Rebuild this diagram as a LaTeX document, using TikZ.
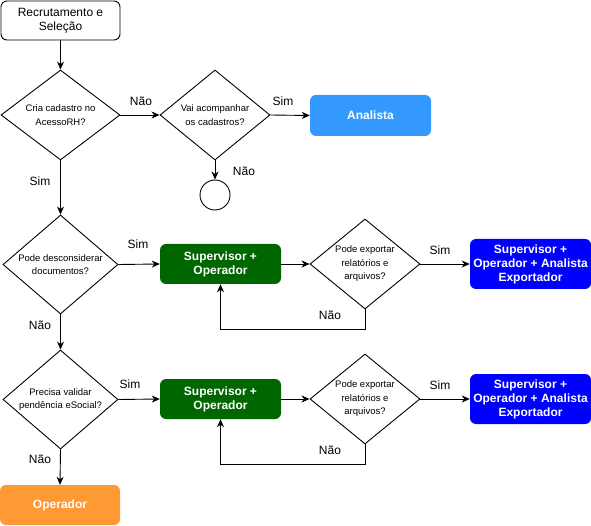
\documentclass[tikz,border=0pt]{standalone}
\usepackage{fontspec}
\setmainfont{Liberation Sans}
\usetikzlibrary{shapes.geometric,arrows.meta}
\definecolor{ana}{HTML}{3399FF}
\definecolor{sup}{HTML}{006600}
\definecolor{exp}{HTML}{0000FF}
\definecolor{ope}{HTML}{FF9933}
\tikzset{
 rbox/.style={rectangle, rounded corners=6pt, minimum width=121pt, minimum height=40pt, inner sep=0pt, align=center, font=\fontsize{12}{14}\selectfont\bfseries, text=white},
 dec/.style={diamond, draw, line width=0.9pt, inner sep=0pt},
 dtext/.style={align=center, font=\fontsize{9.5}{13.5}\selectfont, inner sep=0pt},
 lbl/.style={font=\fontsize{12}{14}\selectfont, inner sep=0pt},
 arr/.style={-{Stealth[length=8pt,width=7pt,inset=2.5pt]}, line width=0.9pt},
}
\begin{document}
\begin{tikzpicture}[x=1pt,y=-1pt]
\useasboundingbox (0,0) rectangle (591,526);
% nodes
\node[draw, line width=0.9pt, rounded corners=6pt, minimum width=119pt, minimum height=39pt, inner sep=0pt, align=center, font=\fontsize{12}{14}\selectfont] (start) at (60.5,20.5) {Recrutamento e\\Seleção};
\node[dec, minimum width=119pt, minimum height=90pt] (d1) at (60.5,115) {};
\node[dtext] (t1) at (d1) {Cria cadastro no\\AcessoRH?};
\node[dec, minimum width=110pt, minimum height=90pt] (d2) at (215,115) {};
\node[dtext] (t2) at (d2) {Vai acompanhar\\os cadastros?};
\node[rbox, fill=ana, minimum height=41pt] (ana) at (370.5,115.5) {Analista};
\node[circle, draw, line width=0.9pt, minimum size=30pt, inner sep=0pt] (fim) at (215,195) {};
\node[dec, minimum width=115pt, minimum height=99pt] (d3) at (60.5,264.5) {};
\node[dtext] (t3) at (d3) {Pode desconsiderar\\documentos?};
\node[rbox, fill=sup] (g1) at (220.5,264) {Supervisor +\\Operador};
\node[dec, minimum width=110pt, minimum height=90pt] (d4) at (365,264) {};
\node[dtext] (t4) at (d4) {Pode exportar\\relatórios e\\arquivos?};
\node[rbox, fill=exp, minimum height=50pt] (b1) at (530.5,264) {Supervisor +\\Operador + Analista\\Exportador};
\node[dec, minimum width=115pt, minimum height=99pt] (d5) at (60.5,399.5) {};
\node[dtext] (t5) at (d5) {Precisa validar\\pendência eSocial?};
\node[rbox, fill=sup] (g2) at (220.5,399) {Supervisor +\\Operador};
\node[dec, minimum width=110pt, minimum height=90pt] (d6) at (365,399) {};
\node[dtext] (t6) at (d6) {Pode exportar\\relatórios e\\arquivos?};
\node[rbox, fill=exp, minimum height=50pt] (b2) at (530.5,399) {Supervisor +\\Operador + Analista\\Exportador};
\node[rbox, fill=ope, minimum width=120pt] (op) at (60,505) {Operador};
% connectors
\draw[arr] (start) -- (d1.north);
\draw[arr] (d1.east) -- (d2.west);
\draw[arr] (d2.east) -- (ana.west);
\draw[arr] (d2.south) -- (fim.north);
\draw[arr] (d1.south) -- (d3.north);
\draw[arr] (d3.east) -- (g1.west);
\draw[arr] (g1.east) -- (d4.west);
\draw[arr] (d4.east) -- (b1.west);
\draw[arr] (d4.south) -- ++(0,20) -| (g1.south);
\draw[arr] (d3.south) -- (d5.north);
\draw[arr] (d5.east) -- (g2.west);
\draw[arr] (g2.east) -- (d6.west);
\draw[arr] (d6.east) -- (b2.west);
\draw[arr] (d6.south) -- ++(0,20) -| (g2.south);
\draw[arr] (d5.south) -- (op.north);
% labels
\node[lbl] (l1) at (141,101) {Não};
\node[lbl] (l2) at (283,101) {Sim};
\node[lbl] (l3) at (244,171) {Não};
\node[lbl] (l4) at (40,181) {Sim};
\node[lbl] (l5) at (138,244) {Sim};
\node[lbl] (l6) at (440,250) {Sim};
\node[lbl] (l7) at (330,315) {Não};
\node[lbl] (l8) at (40,325) {Não};
\node[lbl] (l9) at (130,384) {Sim};
\node[lbl] (l10) at (440,385) {Sim};
\node[lbl] (l11) at (330,450) {Não};
\node[lbl] (l12) at (40,459) {Não};
\end{tikzpicture}
\end{document}
